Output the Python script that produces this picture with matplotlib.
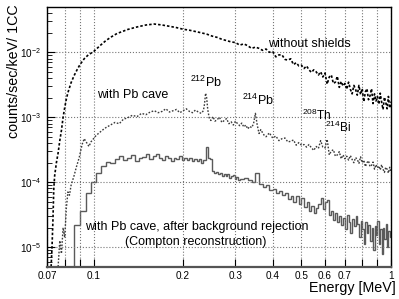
import numpy as np
import matplotlib
matplotlib.use('Agg')
import matplotlib.pyplot as plt
from matplotlib.ticker import NullLocator, LogLocator

plt.rcParams['font.family'] = 'Liberation Sans'
plt.rcParams['mathtext.fontset'] = 'custom'
plt.rcParams['mathtext.rm'] = 'Liberation Sans'
plt.rcParams['mathtext.it'] = 'Liberation Sans:italic'
plt.rcParams['mathtext.bf'] = 'Liberation Sans:bold'

# energies in keV, rates as log10(counts/sec/keV/1CC)

# without shields
e_noshield = [72, 72.5, 73, 73.5, 74, 75, 76, 77, 78, 79, 80, 81, 82, 84, 86, 88, 90, 93, 96,
              100, 105, 110, 115, 120, 125, 130, 140, 150, 160, 170, 180, 190, 200, 210, 220,
              230, 240, 250, 260, 270, 280, 290] + list(range(300, 1001, 10))
r_noshield = [-5.3, -5.0, -4.6, -4.1, -3.9, -3.7, -3.55, -3.36, -3.2, -3.0, -2.85, -2.72, -2.62,
              -2.47, -2.36, -2.27, -2.19, -2.1, -2.04,
              -1.99, -1.9, -1.82, -1.76, -1.71, -1.68, -1.65, -1.61, -1.58, -1.565, -1.58, -1.6,
              -1.62, -1.645, -1.66, -1.68, -1.7, -1.72, -1.75, -1.77, -1.8, -1.82, -1.84,
              -1.85, -1.89, -1.87, -1.90, -1.94, -1.92, -1.94, -1.97, -1.95, -2.00,
              -1.99, -2.07, -2.04, -2.04, -2.11, -2.12, -2.10, -2.19, -2.16, -2.21,
              -2.20, -2.25, -2.21, -2.27, -2.31, -2.27, -2.30, -2.35, -2.30, -2.38,
              -2.32, -2.49, -2.38, -2.35, -2.48, -2.46, -2.37, -2.54, -2.45, -2.52,
              -2.48, -2.57, -2.46, -2.57, -2.64, -2.51, -2.57, -2.66, -2.51, -2.65,
              -2.56, -2.76, -2.61, -2.56, -2.73, -2.67, -2.56, -2.79, -2.64, -2.75,
              -2.68, -2.80, -2.63, -2.77, -2.88, -2.69, -2.77, -2.87, -2.68, -2.86, -2.76]

# with Pb cave
e_cave = [76, 77, 78, 79, 80, 81, 82, 83, 84, 86, 87.5, 89.5, 91.5, 93, 95, 96.5, 98, 100, 102,
          104.5, 107, 110, 114, 118, 122, 126, 130, 135, 140, 145, 150, 155, 160, 165, 170,
          175, 180, 185, 190, 195, 200, 205, 210, 215, 220, 225, 230, 234, 236, 238, 240,
          242, 245, 248, 252, 256, 260, 265, 270, 275, 280, 285, 290, 295, 300, 305, 310,
          315, 320, 325, 330, 335, 340, 345, 350, 355, 360, 365, 370, 375] + list(range(380, 1001, 10))
r_cave = [-5.3, -4.9, -5.1, -4.7, -4.85, -4.4, -4.15, -4.2, -4.05, -3.9, -3.77, -3.62, -3.42,
          -3.33, -3.4, -3.45, -3.38, -3.33, -3.28,
          -3.24, -3.2, -3.16, -3.12, -3.08, -3.1, -3.03, -3.01, -2.97, -2.99, -2.94, -2.96,
          -2.92, -2.9, -2.93, -2.91, -2.87, -2.92, -2.9, -2.88, -2.93, -2.9, -2.87, -2.91,
          -2.93, -2.89, -2.92, -2.94, -2.9, -2.8, -2.63, -2.7,
          -2.88, -3.02, -3.05, -2.99, -3.06, -3.04, -3.0, -3.08, -3.05, -3.02, -3.1, -3.07,
          -3.12, -3.06, -3.1, -3.13, -3.09, -3.15, -3.12, -3.18, -3.14, -3.16, -3.1, -2.94,
          -3.12, -3.25, -3.19, -3.24, -3.28,
          -3.30, -3.24, -3.32, -3.29, -3.36, -3.33, -3.32, -3.38, -3.37, -3.35, -3.43, -3.39,
          -3.43, -3.42, -3.46, -3.42, -3.47, -3.51, -3.45, -3.48, -3.36, -3.46, -3.47, -3.34,
          -3.58, -3.52, -3.50, -3.60, -3.58, -3.53, -3.64, -3.58, -3.64, -3.60, -3.66, -3.59,
          -3.65, -3.70, -3.62, -3.65, -3.71, -3.61, -3.70, -3.66, -3.76, -3.70, -3.67, -3.76,
          -3.74, -3.69, -3.80, -3.73, -3.78, -3.75, -3.81, -3.73, -3.80, -3.85, -3.77, -3.80,
          -3.86, -3.77, -3.85]

# with Pb cave, after background rejection (histogram, 4 keV bins up to 310, then 10 keV)
edges_rej = np.concatenate([np.arange(70, 310, 4), np.arange(310, 1001, 10)])
r_rej = [-9, -9, -9, -9, -4.66, -4.45, -4.17, -4.0, -3.86, -3.75, -3.69, -3.71, -3.64, -3.6,
         -3.66, -3.62, -3.58, -3.67, -3.63, -3.61, -3.57, -3.64, -3.6, -3.56, -3.62, -3.66,
         -3.6, -3.63, -3.68, -3.62, -3.65, -3.6, -3.66, -3.63, -3.66, -3.62, -3.67, -3.64,
         -3.68, -3.65, -3.7, -3.66, -3.46, -3.62, -3.65, -3.82, -3.86, -3.84, -3.88, -3.86,
         -3.9, -3.87, -3.91, -3.88, -3.93, -3.9, -3.89, -3.95, -3.92, -3.96,
         -3.95, -3.93, -3.97, -3.99, -3.86, -4.03, -4.07, -4.05, -4.12, -4.1,
         -4.16, -4.13, -4.2, -4.17, -4.26, -4.21, -4.3, -4.22, -4.33, -4.25,
         -4.38, -4.31, -4.45, -4.36, -4.48, -4.4, -4.34, -4.24, -4.42, -4.3,
         -4.27, -4.5, -4.44, -4.58, -4.47, -4.62, -4.52, -4.66, -4.55, -4.72,
         -4.5, -4.62, -4.78, -4.56, -4.68, -4.52, -4.64, -4.85, -4.6, -4.72,
         -4.95, -4.62, -4.78, -4.66, -4.9, -4.7, -5.05, -4.68, -4.82, -4.6,
         -4.95, -4.72, -5.1, -4.7, -4.88, -4.65, -5.0, -4.75, -4.85]

xticks = [0.07, 0.08, 0.09, 0.1, 0.2, 0.3, 0.4, 0.5, 0.6, 0.7, 0.8, 0.9, 1.0]
xticklabels = ['0.07', '', '', '0.1', '0.2', '0.3', '0.4', '0.5', '0.6', '0.7', '', '', '1']

fig = plt.figure(figsize=(3.99, 2.99), dpi=100)
ax = fig.add_axes([0.119, 0.108, 0.861, 0.8686])

ax.plot(np.array(e_noshield) / 1000, 10 ** np.array(r_noshield), color='black',
        lw=1.2, ls=(0, (1.5, 1.2)))
ax.plot(np.array(e_cave) / 1000, 10 ** np.array(r_cave), color='#3a3a3a',
        lw=1.0, ls=(0, (1.2, 1.2)))
ax.stairs(10 ** np.array(r_rej), edges_rej / 1000, color='#5a5a5a', lw=1.0, baseline=None)

ax.set_xscale('log')
ax.set_yscale('log')
ax.set_xlim(0.07, 1.0)
ax.set_ylim(5.0e-6, 0.0498)

ax.set_xticks(xticks)
ax.set_xticklabels(xticklabels)
ax.xaxis.set_minor_locator(NullLocator())
ax.yaxis.set_major_locator(LogLocator(base=10, numticks=10))
ax.yaxis.set_minor_locator(LogLocator(base=10, subs=np.arange(2, 10), numticks=20))

ax.tick_params(which='both', direction='in', labelsize=7.2, top=False, right=False)
ax.tick_params(which='major', length=6, width=0.8)
ax.tick_params(which='minor', length=3.5, width=0.6)
ax.tick_params(axis='x', pad=3)
ax.tick_params(axis='y', pad=5)

ax.grid(True, which='major', axis='both', ls=':', color='#777777', lw=0.8)

for sp in ax.spines.values():
    sp.set_linewidth(1.0)
ax.spines['bottom'].set_color('#555555')
ax.spines['bottom'].set_linewidth(1.6)

tfs = 9
ax.text(0.386, 1.2e-2, 'without shields', fontsize=tfs, va='baseline')
ax.text(0.1027, 1.96e-3, 'with Pb cave', fontsize=tfs, va='baseline')
ax.text(0.211, 2.9e-3, r'$^{212}$Pb', fontsize=tfs, va='baseline')
ax.text(0.3156, 1.53e-3, r'$^{214}$Pb', fontsize=tfs, va='baseline')
ax.text(0.502, 9.0e-4, r'$^{208}$Th', fontsize=tfs - 0.5, va='baseline')
ax.text(0.600, 5.9e-4, r'$^{214}$Bi', fontsize=tfs - 0.5, va='baseline')
ax.text(0.0936, 1.82e-5, 'with Pb cave, after background rejection', fontsize=tfs, va='baseline')
ax.text(0.1276, 1.07e-5, '(Compton reconstruction)', fontsize=tfs, va='baseline')

fig.text(0.034, 0.985, 'counts/sec/keV/ 1CC', rotation=90, fontsize=10.3, ha='center', va='top')
fig.text(0.993, 0.037, 'Energy [MeV]', fontsize=10.3, ha='right', va='center')

fig.savefig('out.png', dpi=100)
